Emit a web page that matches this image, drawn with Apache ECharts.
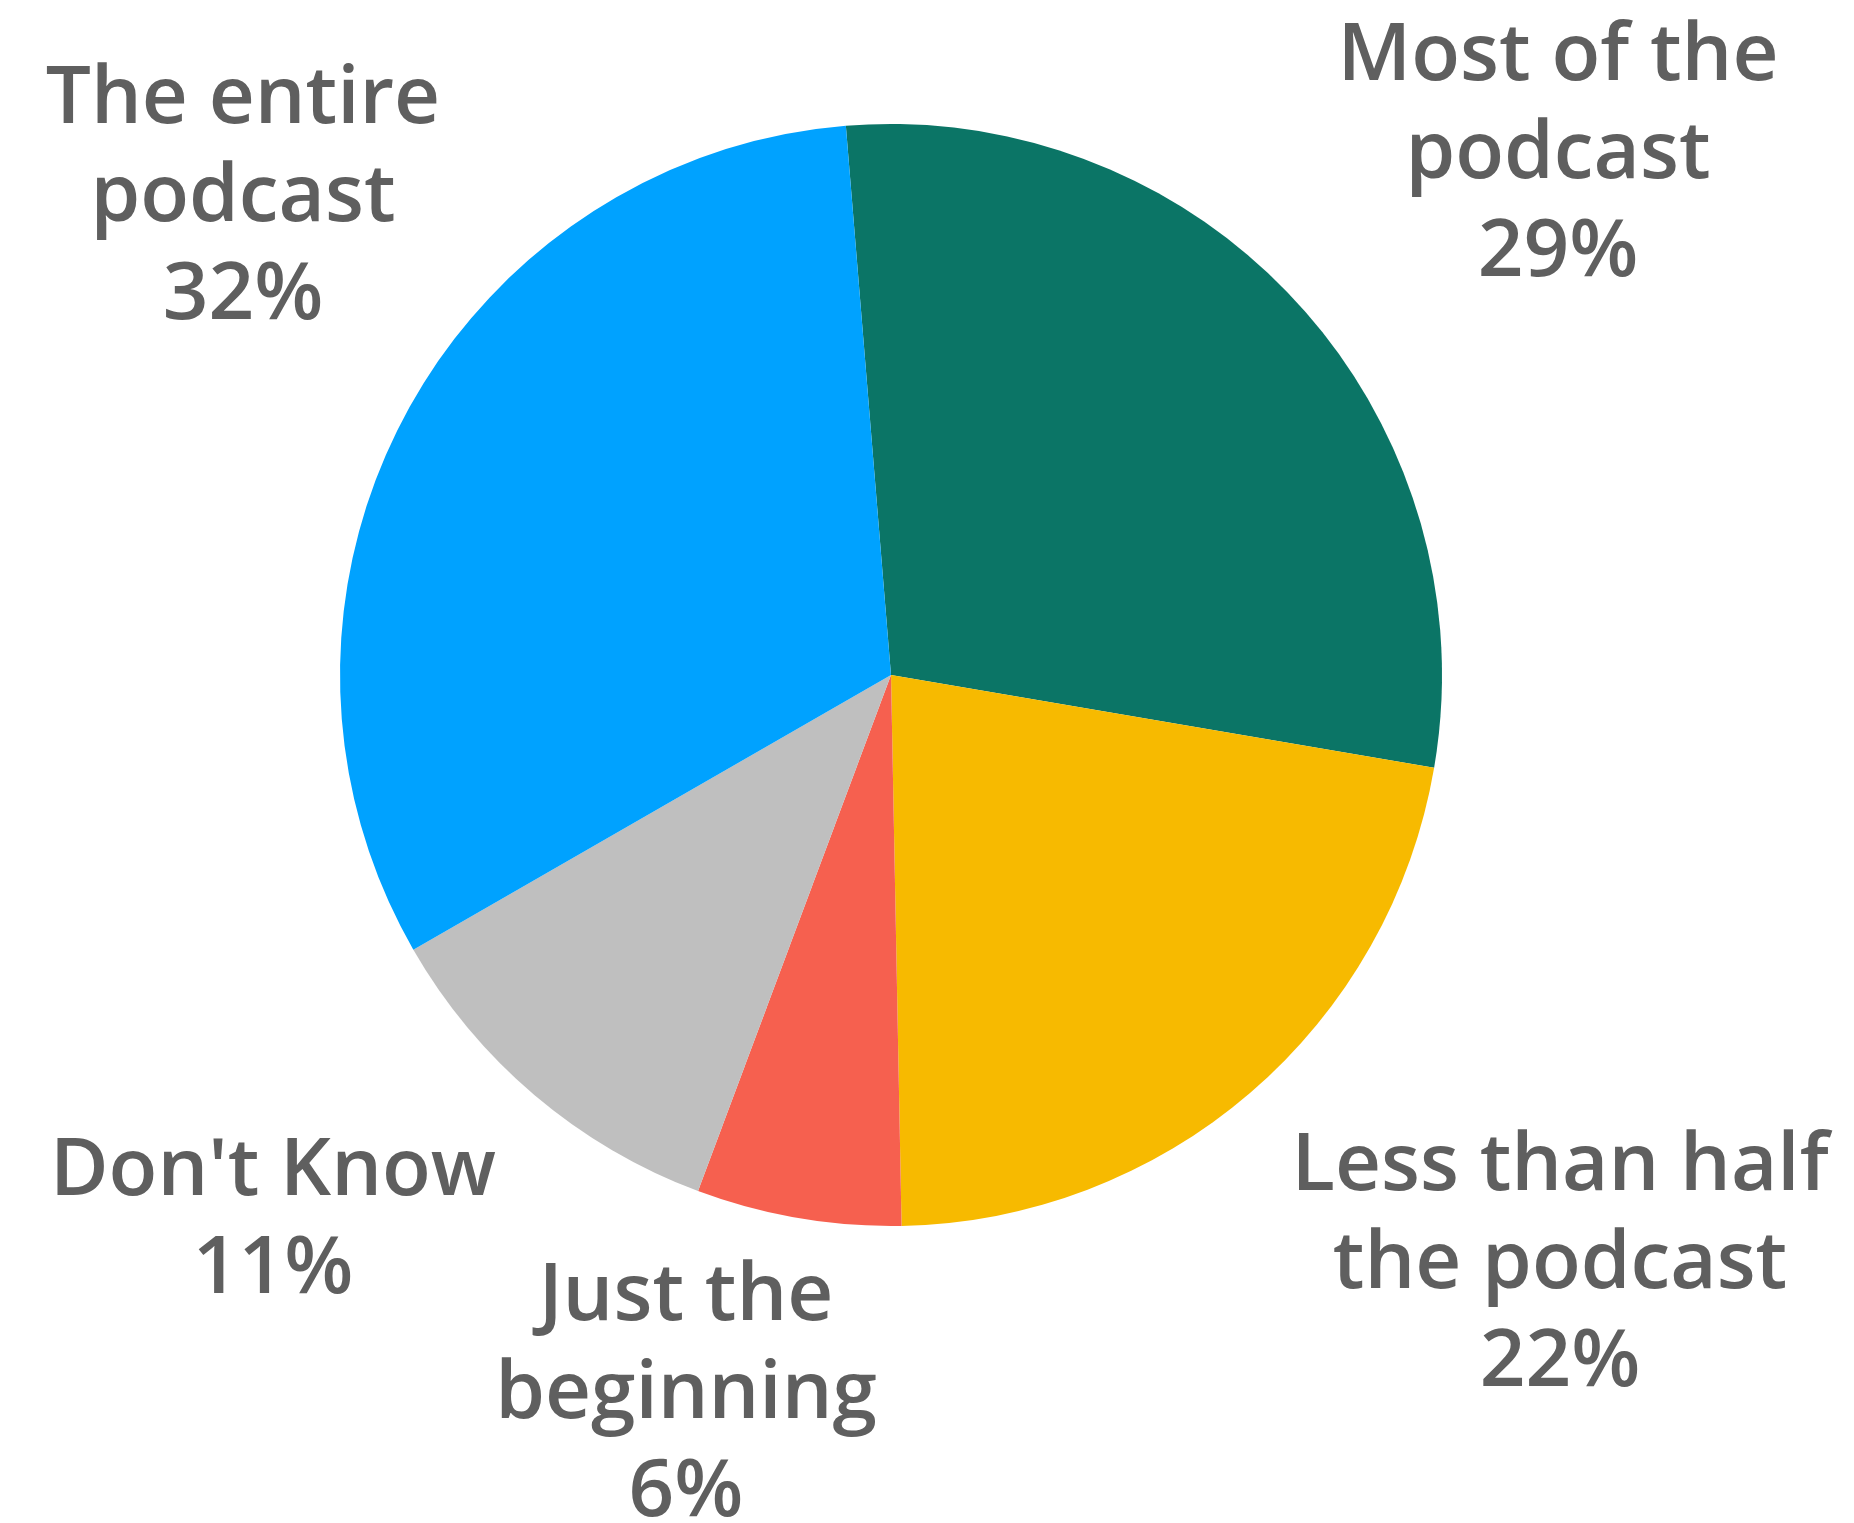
<!DOCTYPE html>
<html>
<head>
<meta charset="utf-8">
<script src="https://cdn.jsdelivr.net/npm/echarts@6/dist/echarts.min.js"></script>
<style>
html,body{margin:0;padding:0;background:#fff;}
#chart{width:1854px;height:1523px;}
</style>
</head>
<body>
<div id="chart"></div>
<script>
// Data
const categories = ['Most of the podcast', 'Less than half the podcast', 'Just the beginning', "Don't Know", 'The entire podcast'];
const labelText = ['Most of the\npodcast', 'Less than half\nthe podcast', 'Just the\nbeginning', "Don't Know", 'The entire\npodcast'];
const values = [29, 22, 6, 11, 32];
const colors = ['#0B7566', '#F7BA00', '#F6604F', '#BFBFBF', '#00A2FF'];

// Label anchor positions (layout only)
const labelPos = [[1558, 155], [1560, 1265], [686, 1395], [273, 1221], [243, 198]];

const chart = echarts.init(document.getElementById('chart'));
chart.setOption({
  animation: false,
  backgroundColor: '#ffffff',
  series: [{
    type: 'pie',
    center: [891, 675],
    radius: [0, 551],
    startAngle: 94.7,
    clockwise: true,
    avoidLabelOverlap: false,
    data: categories.map((c, i) => ({ name: c, value: values[i], itemStyle: { color: colors[i] } })),
    label: {
      show: true,
      position: 'outside',
      formatter: p => labelText[p.dataIndex] + '\n' + p.value + '%',
      color: '#5f5f5f',
      fontFamily: '"Open Sans", sans-serif',
      fontWeight: 600,
      fontSize: 80,
      lineHeight: 98,
      align: 'center'
    },
    labelLine: { show: false },
    labelLayout: p => ({
      x: labelPos[p.dataIndex][0],
      y: labelPos[p.dataIndex][1],
      align: 'center',
      verticalAlign: 'middle'
    }),
    itemStyle: { borderWidth: 0 },
    emphasis: { disabled: true }
  }]
});
</script>
</body>
</html>
